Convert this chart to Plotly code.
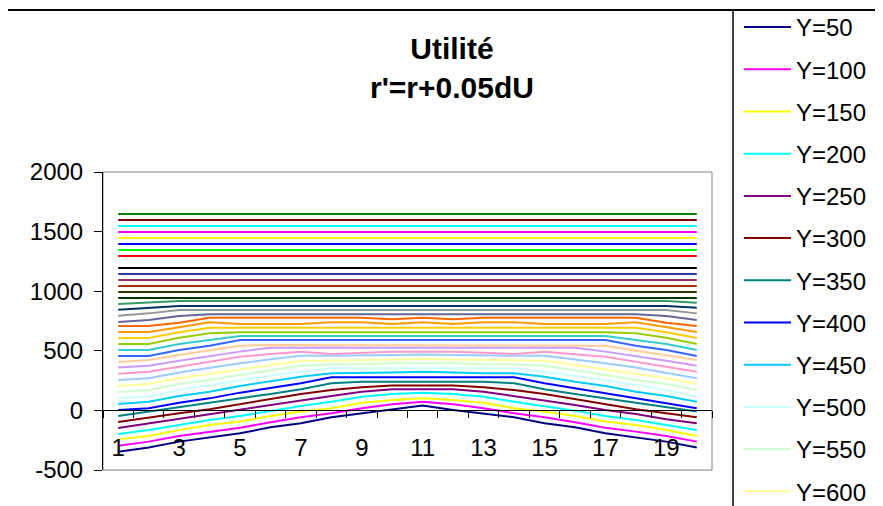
import plotly.graph_objects as go

# x categories (1..20)
categories = list(range(1, 21))
x_tick_labels = [1, 3, 5, 7, 9, 11, 13, 15, 17, 19]
y_tick_values = [-500, 0, 500, 1000, 1500, 2000]

# utility curves, one per Y level
y50 = [-346, -312, -262, -226, -192, -142, -108, -58, -24, 4, 40, 4, -24, -58, -108, -142, -192, -226, -262, -312]
y100 = [-296, -262, -215, -178, -145, -100, -58, -24, 18, 51, 73, 51, 18, -24, -58, -100, -145, -178, -215, -262]
y150 = [-243, -215, -164, -122, -94, -47, -10, 18, 65, 87, 101, 87, 65, 18, -10, -47, -94, -122, -164, -215]
y200 = [-198, -164, -122, -80, -47, -2, 37, 73, 115, 138, 149, 138, 115, 73, 37, -2, -47, -80, -122, -164]
y250 = [-147, -108, -75, -30, 4, 45, 87, 121, 157, 177, 177, 177, 157, 121, 87, 45, 4, -30, -75, -108]
y300 = [-97, -58, -24, 9, 54, 93, 138, 171, 194, 208, 208, 208, 194, 171, 138, 93, 54, 9, -24, -58]
y350 = [-47, -10, 26, 59, 101, 138, 177, 227, 241, 241, 241, 241, 241, 227, 177, 138, 101, 59, 26, -10]
y400 = [4, 18, 65, 101, 149, 185, 227, 278, 278, 278, 283, 278, 278, 278, 227, 185, 149, 101, 65, 18]
y450 = [54, 73, 121, 157, 205, 241, 283, 311, 311, 317, 325, 317, 311, 311, 283, 241, 205, 157, 121, 73]
y500 = [104, 115, 171, 213, 255, 292, 325, 353, 353, 353, 359, 353, 353, 353, 325, 292, 255, 213, 171, 115]
y550 = [155, 171, 222, 255, 297, 339, 375, 387, 387, 395, 395, 395, 387, 387, 375, 339, 297, 255, 222, 171]
y600 = [205, 222, 269, 305, 345, 381, 417, 417, 423, 428, 431, 428, 423, 417, 417, 381, 345, 305, 269, 222]
y650 = [255, 269, 317, 359, 395, 429, 459, 459, 465, 465, 470, 465, 465, 459, 459, 429, 395, 359, 317, 269]
y700 = [308, 325, 367, 409, 451, 473, 493, 473, 484, 493, 493, 493, 484, 473, 493, 473, 451, 409, 367, 325]
y750 = [359, 375, 417, 456, 493, 526, 526, 526, 526, 526, 526, 526, 526, 526, 526, 526, 493, 456, 417, 375]
y800 = [406, 423, 465, 501, 543, 549, 549, 549, 549, 549, 549, 549, 549, 549, 549, 549, 543, 501, 465, 423]
y850 = [456, 456, 507, 543, 591, 591, 591, 591, 591, 591, 591, 591, 591, 591, 591, 591, 591, 543, 507, 456]
y900 = [507, 507, 557, 591, 624, 624, 624, 624, 624, 624, 624, 624, 624, 624, 624, 624, 624, 591, 557, 507]
y950 = [557, 557, 610, 647, 655, 655, 655, 655, 655, 655, 655, 655, 655, 655, 655, 655, 655, 647, 610, 557]
y1000 = [607, 607, 655, 694, 694, 694, 694, 694, 694, 694, 694, 694, 694, 694, 694, 694, 694, 694, 655, 607]
y1050 = [658, 658, 697, 739, 725, 725, 725, 739, 739, 725, 739, 725, 739, 739, 725, 725, 725, 739, 697, 658]
y1100 = [708, 708, 736, 778, 778, 778, 778, 778, 778, 764, 778, 764, 778, 778, 778, 778, 778, 778, 736, 708]
y1150 = [742, 758, 792, 806, 806, 806, 806, 806, 806, 806, 806, 806, 806, 806, 806, 806, 806, 806, 792, 758]
y1200 = [795, 814, 842, 842, 842, 842, 842, 842, 842, 842, 842, 842, 842, 842, 842, 842, 842, 842, 842, 814]
y1250 = [845, 862, 876, 876, 876, 876, 876, 876, 876, 876, 876, 876, 876, 876, 876, 876, 876, 876, 876, 862]
y1300 = [893, 904, 918, 918, 918, 918, 918, 918, 918, 918, 918, 918, 918, 918, 918, 918, 918, 918, 918, 904]
y1350 = [943, 943, 943, 943, 943, 943, 943, 943, 943, 943, 943, 943, 943, 943, 943, 943, 943, 943, 943, 943]
y1400 = [993, 993, 993, 993, 993, 993, 993, 993, 993, 993, 993, 993, 993, 993, 993, 993, 993, 993, 993, 993]
y1450 = [1044, 1044, 1044, 1044, 1044, 1044, 1044, 1044, 1044, 1044, 1044, 1044, 1044, 1044, 1044, 1044, 1044, 1044, 1044, 1044]
y1500 = [1094, 1094, 1094, 1094, 1094, 1094, 1094, 1094, 1094, 1094, 1094, 1094, 1094, 1094, 1094, 1094, 1094, 1094, 1094, 1094]
y1550 = [1144, 1144, 1144, 1144, 1144, 1144, 1144, 1144, 1144, 1144, 1144, 1144, 1144, 1144, 1144, 1144, 1144, 1144, 1144, 1144]
y1600 = [1195, 1195, 1195, 1195, 1195, 1195, 1195, 1195, 1195, 1195, 1195, 1195, 1195, 1195, 1195, 1195, 1195, 1195, 1195, 1195]
y1650 = [1245, 1245, 1245, 1245, 1245, 1245, 1245, 1245, 1245, 1245, 1245, 1245, 1245, 1245, 1245, 1245, 1245, 1245, 1245, 1245]
y1700 = [1295, 1295, 1295, 1295, 1295, 1295, 1295, 1295, 1295, 1295, 1295, 1295, 1295, 1295, 1295, 1295, 1295, 1295, 1295, 1295]
y1750 = [1346, 1346, 1346, 1346, 1346, 1346, 1346, 1346, 1346, 1346, 1346, 1346, 1346, 1346, 1346, 1346, 1346, 1346, 1346, 1346]
y1800 = [1396, 1396, 1396, 1396, 1396, 1396, 1396, 1396, 1396, 1396, 1396, 1396, 1396, 1396, 1396, 1396, 1396, 1396, 1396, 1396]
y1850 = [1446, 1446, 1446, 1446, 1446, 1446, 1446, 1446, 1446, 1446, 1446, 1446, 1446, 1446, 1446, 1446, 1446, 1446, 1446, 1446]
y1900 = [1497, 1497, 1497, 1497, 1497, 1497, 1497, 1497, 1497, 1497, 1497, 1497, 1497, 1497, 1497, 1497, 1497, 1497, 1497, 1497]
y1950 = [1547, 1547, 1547, 1547, 1547, 1547, 1547, 1547, 1547, 1547, 1547, 1547, 1547, 1547, 1547, 1547, 1547, 1547, 1547, 1547]
y2000 = [1597, 1597, 1597, 1597, 1597, 1597, 1597, 1597, 1597, 1597, 1597, 1597, 1597, 1597, 1597, 1597, 1597, 1597, 1597, 1597]
y2050 = [1648, 1648, 1648, 1648, 1648, 1648, 1648, 1648, 1648, 1648, 1648, 1648, 1648, 1648, 1648, 1648, 1648, 1648, 1648, 1648]

y_levels = [50, 100, 150, 200, 250, 300, 350, 400, 450, 500, 550, 600, 650, 700, 750, 800,
            850, 900, 950, 1000, 1050, 1100, 1150, 1200, 1250, 1300, 1350, 1400, 1450, 1500,
            1550, 1600, 1650, 1700, 1750, 1800, 1850, 1900, 1950, 2000, 2050]
series_values = [y50, y100, y150, y200, y250, y300, y350, y400, y450, y500, y550, y600, y650,
                 y700, y750, y800, y850, y900, y950, y1000, y1050, y1100, y1150, y1200, y1250,
                 y1300, y1350, y1400, y1450, y1500, y1550, y1600, y1650, y1700, y1750, y1800,
                 y1850, y1900, y1950, y2000, y2050]

# Excel 97 automatic line colours
series_colors = [
    "#000080", "#FF00FF", "#FFFF00", "#00FFFF", "#800080", "#800000", "#008080", "#0000FF",
    "#00CCFF", "#CCFFFF", "#CCFFCC", "#FFFF99", "#99CCFF", "#FF99CC", "#CC99FF", "#FFCC99",
    "#3366FF", "#33CCCC", "#99CC00", "#FFCC00", "#FF9900", "#FF6600", "#666699", "#969696",
    "#003366", "#339966", "#003300", "#333300", "#993300", "#993366", "#333399", "#000000",
    "#FFFFFF", "#FF0000", "#00FF00", "#0000FF", "#FFFF00", "#FF00FF", "#00FFFF", "#800000",
    "#008000",
]

FONT = "Arial, Liberation Sans, sans-serif"
W, H = 883, 506
OFF = 8  # page body margin: figure is drawn 8px right/down of the window corner
# plot area in window pixels
PL, PR, PT, PB = 103, 712, 172, 470


def px_x(p):
    return (p - PL) / (PR - PL)


def px_y(p):
    return (PB - p) / (PB - PT)


fig = go.Figure()
for level, vals, color in zip(y_levels, series_values, series_colors):
    name = f"Y={level}"
    fig.add_trace(
        go.Scatter(
            x=categories,
            y=vals,
            name=name,
            legendgroup=name,
            mode="lines",
            line=dict(color=color, width=2),
        )
    )

fig.update_layout(
    width=W,
    height=H,
    margin=dict(l=PL - OFF, r=W - PR + OFF, t=PT - OFF, b=H - PB + OFF, autoexpand=False),
    paper_bgcolor="white",
    plot_bgcolor="white",
    font=dict(family=FONT, size=24, color="black"),
    showlegend=True,
    legend=dict(
        x=px_x(739),
        y=px_y(5),
        xanchor="left",
        yanchor="top",
        bgcolor="rgba(0,0,0,0)",
        borderwidth=0,
        font=dict(family=FONT, size=24, color="black"),
        tracegroupgap=8,
        itemwidth=47,
        maxheight=2000,
    ),
    annotations=[
        dict(
            text="<b>Utilité</b><br><b>r'=r+0.05dU</b>",
            x=px_x(452),
            y=px_y(68),
            xref="paper",
            yref="paper",
            xanchor="center",
            yanchor="middle",
            showarrow=False,
            font=dict(family=FONT, size=30, color="black"),
        )
    ],
    shapes=[
        # plot area border
        dict(type="rect", xref="paper", yref="paper", x0=0, x1=1, y0=0, y1=1,
             line=dict(color="#808080", width=1), layer="below"),
        # chart frame
        dict(type="rect", xref="paper", yref="paper", x0=px_x(7), x1=px_x(1000),
             y0=px_y(700), y1=px_y(10), line=dict(color="black", width=2)),
        # legend box left edge
        dict(type="line", xref="paper", yref="paper", x0=px_x(733), x1=px_x(733),
             y0=px_y(700), y1=px_y(10), line=dict(color="black", width=1.5)),
    ],
)

fig.update_xaxes(
    range=[0.5, 20.5],
    anchor="free",
    position=0.2,
    showline=True,
    linecolor="black",
    linewidth=1,
    showgrid=False,
    zeroline=False,
    tickmode="array",
    tickvals=x_tick_labels,
    ticktext=[str(v) for v in x_tick_labels],
    ticks="",
    ticklabelstandoff=16,
    tickfont=dict(family=FONT, size=24, color="black"),
    minor=dict(tickmode="linear", tick0=0.5, dtick=1, ticks="outside", ticklen=7,
               tickcolor="black", showgrid=False),
)
fig.update_yaxes(
    range=[-500, 2000],
    tickmode="array",
    tickvals=y_tick_values,
    ticktext=[str(v) for v in y_tick_values],
    showline=True,
    linecolor="black",
    linewidth=1,
    showgrid=False,
    zeroline=False,
    ticks="outside",
    ticklen=8,
    tickcolor="black",
    ticklabelstandoff=6,
    tickfont=dict(family=FONT, size=24, color="black"),
)

fig.write_html("out.html")
